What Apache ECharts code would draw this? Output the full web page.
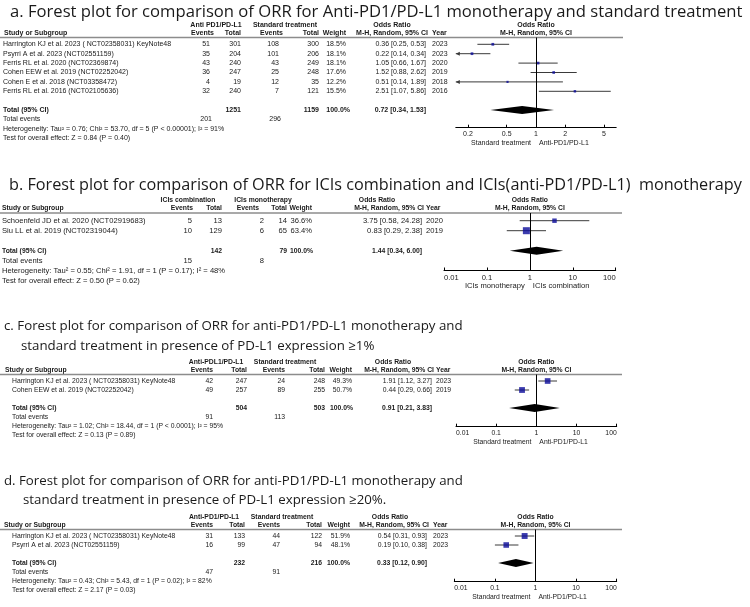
<!DOCTYPE html>
<html>
<head>
<meta charset="utf-8">
<script src="https://cdn.jsdelivr.net/npm/echarts@6/dist/echarts.min.js"></script>
<style>
html, body { margin: 0; padding: 0; background: #fff; }
#main { width: 750px; height: 607px; }
</style>
</head>
<body>
<div id="main"></div>
<script>
// ---- panel a: anti-PD1/PD-L1 vs standard treatment ----
var titleA = ['a. Forest plot for comparison of ORR for Anti-PD1/PD-L1 monotherapy and standard treatment'];
var studiesA = ['Harrington KJ et al. 2023 ( NCT02358031) KeyNote48', 'Psyrri A et al. 2023 (NCT02551159)',
  'Ferris RL et al. 2020 (NCT02369874)', 'Cohen EEW et al. 2019 (NCT02252042)',
  'Cohen E et al. 2018 (NCT03358472)', 'Ferris RL et al. 2016 (NCT02105636)'];
var eventsExpA = [51, 35, 43, 36, 4, 32];
var totalExpA = [301, 204, 240, 247, 19, 240];
var eventsCtlA = [108, 101, 43, 25, 12, 7];
var totalCtlA = [300, 206, 249, 248, 35, 121];
var weightA = [18.5, 18.1, 18.1, 17.6, 12.2, 15.5];
var orA = [0.36, 0.22, 1.05, 1.52, 0.51, 2.51];
var loA = [0.25, 0.14, 0.66, 0.88, 0.14, 1.07];
var hiA = [0.53, 0.34, 1.67, 2.62, 1.89, 5.86];
var yearA = [2023, 2023, 2020, 2019, 2018, 2016];
var pooledA = [0.72, 0.34, 1.53];
var sumTotalsA = [1251, 1159];
var sumEventsA = [201, 296];
var groupsA = ['Anti PD1/PD-L1', 'Standard treatment'];
var favoursA = ['Standard treatment', 'Anti-PD1/PD-L1'];
var hetA = 'Heterogeneity: Tau\u00b2 = 0.76; Chi\u00b2 = 53.70, df = 5 (P < 0.00001); I\u00b2 = 91%';
var testA = 'Test for overall effect: Z = 0.84 (P = 0.40)';
var ticksA = [0.2, 0.5, 1, 2, 5];

// ---- panel b: ICIs combination vs ICIs monotherapy ----
var titleB = ['b. Forest plot for comparison of ORR for ICIs combination and ICIs(anti-PD1/PD-L1)  monotherapy'];
var studiesB = ['Schoenfeld JD et al. 2020 (NCT02919683)', 'Siu LL et al. 2019 (NCT02319044)'];
var eventsExpB = [5, 10];
var totalExpB = [13, 129];
var eventsCtlB = [2, 6];
var totalCtlB = [14, 65];
var weightB = [36.6, 63.4];
var orB = [3.75, 0.83];
var loB = [0.58, 0.29];
var hiB = [24.28, 2.38];
var yearB = [2020, 2019];
var pooledB = [1.44, 0.34, 6.00];
var sumTotalsB = [142, 79];
var sumEventsB = [15, 8];
var groupsB = ['ICIs combination', 'ICIs monotherapy'];
var favoursB = ['ICIs monotherapy', 'ICIs combination'];
var hetB = 'Heterogeneity: Tau\u00b2 = 0.55; Chi\u00b2 = 1.91, df = 1 (P = 0.17); I\u00b2 = 48%';
var testB = 'Test for overall effect: Z = 0.50 (P = 0.62)';
var ticksB = [0.01, 0.1, 1, 10, 100];

// ---- panel c: PD-L1 >= 1% ----
var titleC = ['c. Forest plot for comparison of ORR for anti-PD1/PD-L1 monotherapy and',
  'standard treatment in presence of PD-L1 expression \u22651%'];
var studiesC = ['Harrington KJ et al. 2023 ( NCT02358031) KeyNote48', 'Cohen EEW et al. 2019 (NCT02252042)'];
var eventsExpC = [42, 49];
var totalExpC = [247, 257];
var eventsCtlC = [24, 89];
var totalCtlC = [248, 255];
var weightC = [49.3, 50.7];
var orC = [1.91, 0.44];
var loC = [1.12, 0.29];
var hiC = [3.27, 0.66];
var yearC = [2023, 2019];
var pooledC = [0.91, 0.21, 3.83];
var sumTotalsC = [504, 503];
var sumEventsC = [91, 113];
var groupsC = ['Anti-PDL1/PD-L1', 'Standard treatment'];
var favoursC = ['Standard treatment', 'Anti-PD1/PD-L1'];
var hetC = 'Heterogeneity: Tau\u00b2 = 1.02; Chi\u00b2 = 18.44, df = 1 (P < 0.0001); I\u00b2 = 95%';
var testC = 'Test for overall effect: Z = 0.13 (P = 0.89)';
var ticksC = [0.01, 0.1, 1, 10, 100];

// ---- panel d: PD-L1 >= 20% ----
var titleD = ['d. Forest plot for comparison of ORR for anti-PD1/PD-L1 monotherapy and',
  'standard treatment in presence of PD-L1 expression \u226520%.'];
var studiesD = ['Harrington KJ et al. 2023 ( NCT02358031) KeyNote48', 'Psyrri A et al. 2023 (NCT02551159)'];
var eventsExpD = [31, 16];
var totalExpD = [133, 99];
var eventsCtlD = [44, 47];
var totalCtlD = [122, 94];
var weightD = [51.9, 48.1];
var orD = [0.54, 0.19];
var loD = [0.31, 0.10];
var hiD = [0.93, 0.38];
var yearD = [2023, 2023];
var pooledD = [0.33, 0.12, 0.90];
var sumTotalsD = [232, 216];
var sumEventsD = [47, 91];
var groupsD = ['Anti-PD1/PD-L1', 'Standard treatment'];
var favoursD = ['Standard treatment', 'Anti-PD1/PD-L1'];
var hetD = 'Heterogeneity: Tau\u00b2 = 0.43; Chi\u00b2 = 5.43, df = 1 (P = 0.02); I\u00b2 = 82%';
var testD = 'Test for overall effect: Z = 2.17 (P = 0.03)';
var ticksD = [0.01, 0.1, 1, 10, 100];

var BODY = '"Liberation Sans", Arial, sans-serif';
var HEAD = '"Open Sans", "Noto Sans", sans-serif';
var INK = '#1a1a1a';

// page layout of each panel (pixels)
var layouts = [
  { font: 7.0, hfont: 7.0, titles: [{ x: 10, y: 12, w: 733 }], h1: 25, h2: 33.5, line: 37.5, lineRight: 623,
    row0: 44.3, step: 9.4, axis: 127.7, left: 455.8, right: 616.2, min: 0.15, max: 6.667, edge: false,
    nameX: 3, headX: 4, ev1: 210, tot1: 241, ev2: 279, tot2: 319, wt: 346, ci: 426, yr: 432,
    evH1: 4, evH2: 4, sumOff: 2, wtTot: 4, g1: 216, g2: 285, orHead: 392 },
  { font: 7.6, hfont: 6.8, titles: [{ x: 9, y: 185, w: 733 }], h1: 200, h2: 208.5, line: 213, lineRight: 622,
    row0: 220.7, step: 10, axis: 270.5, left: 444, right: 615.7, min: 0.01, max: 100, edge: true,
    nameX: 2, headX: 2, ev1: 192, tot1: 222, ev2: 264, tot2: 287, wt: 312, ci: 422, yr: 426,
    evH1: 1, evH2: -5, sumOff: 0, wtTot: 1, g1: 188, g2: 263, orHead: 377 },
  { font: 6.8, hfont: 6.8, titles: [{ x: 4, y: 326.7, w: 459 }, { x: 21, y: 346.5 }], h1: 361.7, h2: 370.5, line: 374.5, lineRight: 622,
    row0: 381, step: 9, axis: 426.7, left: 456, right: 616.7, min: 0.01, max: 100, edge: true,
    nameX: 12, headX: 5, ev1: 213, tot1: 247, ev2: 285, tot2: 325, wt: 352, ci: 432, yr: 436,
    evH1: 0, evH2: 0, sumOff: 0, wtTot: 1, g1: 216, g2: 285, orHead: 393 },
  { font: 6.8, hfont: 6.8, titles: [{ x: 4, y: 481.7, w: 459 }, { x: 23, y: 500 }], h1: 516.7, h2: 525.5, line: 529.5, lineRight: 622,
    row0: 536, step: 9, axis: 581.7, left: 454.3, right: 616.7, min: 0.01, max: 100, edge: true,
    nameX: 12, headX: 4, ev1: 213, tot1: 245, ev2: 280, tot2: 322, wt: 350, ci: 427, yr: 433,
    evH1: 0, evH2: 0, sumOff: 0, wtTot: 0, g1: 214, g2: 282, orHead: 390 }
];

var panels = [
  { title: titleA, studies: studiesA, ev1: eventsExpA, tot1: totalExpA, ev2: eventsCtlA, tot2: totalCtlA, wt: weightA,
    or: orA, lo: loA, hi: hiA, year: yearA, pooled: pooledA, sumTot: sumTotalsA, sumEv: sumEventsA,
    groups: groupsA, favours: favoursA, het: hetA, test: testA, ticks: ticksA },
  { title: titleB, studies: studiesB, ev1: eventsExpB, tot1: totalExpB, ev2: eventsCtlB, tot2: totalCtlB, wt: weightB,
    or: orB, lo: loB, hi: hiB, year: yearB, pooled: pooledB, sumTot: sumTotalsB, sumEv: sumEventsB,
    groups: groupsB, favours: favoursB, het: hetB, test: testB, ticks: ticksB },
  { title: titleC, studies: studiesC, ev1: eventsExpC, tot1: totalExpC, ev2: eventsCtlC, tot2: totalCtlC, wt: weightC,
    or: orC, lo: loC, hi: hiC, year: yearC, pooled: pooledC, sumTot: sumTotalsC, sumEv: sumEventsC,
    groups: groupsC, favours: favoursC, het: hetC, test: testC, ticks: ticksC },
  { title: titleD, studies: studiesD, ev1: eventsExpD, tot1: totalExpD, ev2: eventsCtlD, tot2: totalCtlD, wt: weightD,
    or: orD, lo: loD, hi: hiD, year: yearD, pooled: pooledD, sumTot: sumTotalsD, sumEv: sumEventsD,
    groups: groupsD, favours: favoursD, het: hetD, test: testD, ticks: ticksD }
];

var measure = document.createElement('canvas').getContext('2d');
function fitSize(text, family, width) {
  measure.font = '100px ' + family;
  return 100 * width / measure.measureText(text).width;
}

function ciText(v) {
  return v[0].toFixed(2) + ' [' + v[1].toFixed(2) + ', ' + v[2].toFixed(2) + ']';
}

var graphics = [];
function txt(x, y, text, size, align, bold, family) {
  graphics.push({
    type: 'text', x: x, y: y, silent: true,
    style: {
      text: String(text), fill: INK,
      font: (bold ? 'bold ' : '') + size + 'px ' + (family || BODY),
      textAlign: align || 'left', textVerticalAlign: 'middle',
      align: align || 'left', verticalAlign: 'middle'
    }
  });
}

var grids = [], xAxes = [], yAxes = [], series = [];

panels.forEach(function (d, k) {
  var p = layouts[k];
  var f = p.font, hf = p.hfont;
  var n = d.studies.length;
  var rowY = function (i) { return p.row0 + i * p.step; };
  var lmin = Math.log10(p.min), lmax = Math.log10(p.max);
  var x1 = p.left + (p.right - p.left) * (0 - lmin) / (lmax - lmin);
  var mid = (p.left + p.right) / 2;

  // titles
  var tsize = fitSize(d.title[0], HEAD, p.titles[0].w);
  d.title.forEach(function (t, j) {
    txt(p.titles[j].x, p.titles[j].y, t, tsize, 'left', false, HEAD);
  });

  // headers
  txt(p.g1, p.h1, d.groups[0], hf, 'center', true);
  txt(p.g2, p.h1, d.groups[1], hf, 'center', true);
  txt(p.orHead, p.h1, 'Odds Ratio', hf, 'center', true);
  txt(mid, p.h1, 'Odds Ratio', hf, 'center', true);
  txt(p.headX, p.h2, 'Study or Subgroup', hf, 'left', true);
  txt(p.ev1 + p.evH1, p.h2, 'Events', hf, 'right', true);
  txt(p.tot1, p.h2, 'Total', hf, 'right', true);
  txt(p.ev2 + p.evH2, p.h2, 'Events', hf, 'right', true);
  txt(p.tot2, p.h2, 'Total', hf, 'right', true);
  txt(p.wt, p.h2, 'Weight', hf, 'right', true);
  txt(p.ci + 2, p.h2, 'M-H, Random, 95% CI', hf, 'right', true);
  txt(p.yr, p.h2, 'Year', hf, 'left', true);
  txt(mid, p.h2, 'M-H, Random, 95% CI', hf, 'center', true);
  graphics.push({
    type: 'line', silent: true,
    shape: { x1: 0, y1: p.line, x2: p.lineRight, y2: p.line },
    style: { stroke: '#8c8c8c', lineWidth: 1.5 }
  });

  // study rows
  d.studies.forEach(function (s, i) {
    var y = rowY(i);
    txt(p.nameX, y, s, f, 'left');
    txt(p.ev1, y, d.ev1[i], f, 'right');
    txt(p.tot1, y, d.tot1[i], f, 'right');
    txt(p.ev2, y, d.ev2[i], f, 'right');
    txt(p.tot2, y, d.tot2[i], f, 'right');
    txt(p.wt, y, d.wt[i].toFixed(1) + '%', f, 'right');
    txt(p.ci, y, ciText([d.or[i], d.lo[i], d.hi[i]]), f, 'right');
    txt(p.yr, y, d.year[i], f, 'left');
  });

  // totals and footer
  var yt = rowY(n + 1);
  txt(p.nameX, yt, 'Total (95% CI)', hf, 'left', true);
  txt(p.tot1, yt, d.sumTot[0], hf, 'right', true);
  txt(p.tot2, yt, d.sumTot[1], hf, 'right', true);
  txt(p.wt + p.wtTot, yt, '100.0%', hf, 'right', true);
  txt(p.ci, yt, ciText(d.pooled), hf, 'right', true);
  txt(p.nameX, rowY(n + 2), 'Total events', f, 'left');
  txt(p.ev1 + p.sumOff, rowY(n + 2), d.sumEv[0], f, 'right');
  txt(p.ev2 + p.sumOff, rowY(n + 2), d.sumEv[1], f, 'right');
  txt(p.nameX, rowY(n + 3), d.het, f, 'left');
  txt(p.nameX, rowY(n + 4), d.test, f, 'left');

  // favours labels under the axis
  txt(x1 - 5, p.axis + 15.5, d.favours[0], f, 'right');
  txt(x1 + 3, p.axis + 15.5, d.favours[1], f, 'left');

  // plot area
  grids.push({ left: p.left, top: p.line, width: p.right - p.left, height: p.axis - p.line,
    containLabel: false, outerBoundsMode: 'none' });
  xAxes.push({
    type: 'log', logBase: 10, gridIndex: k, min: p.min, max: p.max, position: 'bottom',
    axisLine: { show: true, onZero: false, lineStyle: { color: '#000', width: 1 } },
    axisTick: { show: true, inside: true, length: 3, customValues: d.ticks, lineStyle: { color: '#000', width: 1 } },
    axisLabel: {
      show: true, customValues: d.ticks, margin: 3, fontSize: f, fontFamily: BODY, color: INK,
      alignMinLabel: p.edge ? 'left' : null, alignMaxLabel: p.edge ? 'right' : null,
      formatter: function (v) { return String(+(+v).toPrecision(3)); }
    },
    splitLine: { show: false }, minorTick: { show: false }, minorSplitLine: { show: false }
  });
  yAxes.push({
    type: 'value', gridIndex: k, inverse: true, show: false,
    min: (p.line - p.row0) / p.step, max: (p.axis - p.row0) / p.step
  });

  var ciData = d.studies.map(function (s, i) { return [d.lo[i], d.hi[i], i]; });
  series.push({
    type: 'custom', xAxisIndex: k, yAxisIndex: k, silent: true, clip: false,
    encode: { x: [0, 1], y: 2 },
    data: ciData,
    renderItem: function (params, api) {
      var lo = api.value(0), hi = api.value(1), y = api.value(2);
      var a = api.coord([Math.max(lo, p.min), y]);
      var b = api.coord([Math.min(hi, p.max), y]);
      var kids = [{ type: 'line', shape: { x1: a[0], y1: a[1], x2: b[0], y2: b[1] },
        style: { stroke: '#3a3a3a', lineWidth: 1 } }];
      if (lo < p.min) {
        kids.push({ type: 'polygon', shape: { points: [[a[0], a[1]], [a[0] + 4, a[1] - 2], [a[0] + 4, a[1] + 2]] },
          style: { fill: '#3a3a3a' } });
      }
      if (hi > p.max) {
        kids.push({ type: 'polygon', shape: { points: [[b[0], b[1]], [b[0] - 4, b[1] - 2], [b[0] - 4, b[1] + 2]] },
          style: { fill: '#3a3a3a' } });
      }
      return { type: 'group', children: kids };
    }
  });

  series.push({
    type: 'scatter', xAxisIndex: k, yAxisIndex: k, silent: true,
    symbol: 'rect',
    symbolSize: function (v) { return 1 + v[2] * 0.095; },
    itemStyle: { color: '#0b0b9a' },
    data: d.studies.map(function (s, i) { return [d.or[i], i, d.wt[i]]; }),
    markLine: {
      silent: true, symbol: 'none', animation: false, label: { show: false },
      lineStyle: { color: '#000', width: 1, type: 'solid' },
      data: [{ xAxis: 1 }]
    }
  });

  series.push({
    type: 'custom', xAxisIndex: k, yAxisIndex: k, silent: true, clip: false,
    encode: { x: [0, 1, 2], y: 3 },
    data: [[d.pooled[1], d.pooled[0], d.pooled[2], n + 1]],
    renderItem: function (params, api) {
      var l = api.coord([api.value(0), api.value(3)]);
      var c = api.coord([api.value(1), api.value(3)]);
      var r = api.coord([api.value(2), api.value(3)]);
      return {
        type: 'polygon',
        shape: { points: [[l[0], l[1]], [c[0], c[1] - 4], [r[0], r[1]], [c[0], c[1] + 4]] },
        style: { fill: '#000' }
      };
    }
  });
});

var chart = echarts.init(document.getElementById('main'), null, { renderer: 'canvas' });
chart.setOption({
  animation: false,
  backgroundColor: '#fff',
  grid: grids,
  xAxis: xAxes,
  yAxis: yAxes,
  series: series,
  graphic: { elements: graphics }
});
window.addEventListener('resize', function () {
  chart.resize();
});
</script>
</body>
</html>
